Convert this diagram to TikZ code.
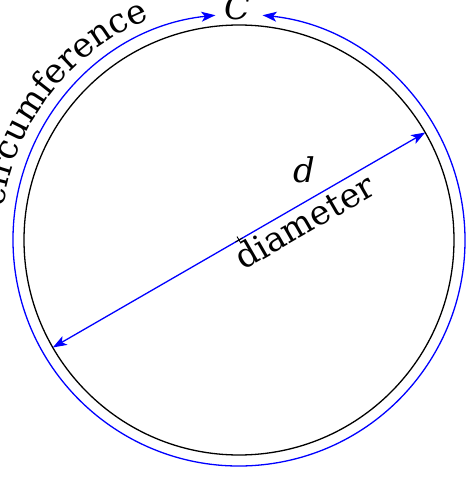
\documentclass[tikz,border=0pt]{standalone}
\usepackage{fontspec}
\setmainfont{DejaVu Serif}
\usepackage{tikz}
\usetikzlibrary{arrows.meta,decorations.text}
\definecolor{dimblue}{RGB}{0,0,255}

\tikzset{
  dimline/.style={dimblue,line width=1.3pt},
  bigtext/.style={inner sep=0pt,font=\fontsize{34}{34}\selectfont},
  tip/.tip={Stealth[length=14pt,width=10pt,inset=3.5pt]}
}

\begin{document}
\begin{tikzpicture}[x=1pt,y=1pt]
    \useasboundingbox (-239,-237) rectangle (235,240);

    % The circle
    \coordinate (o) at (0,0);
    \draw[line width=1.3pt] (o) circle (215);

    % Circumference, open at the top
    \coordinate (a1) at (96:226);
    \draw[dimline,tip-tip] (a1) arc (96:444:226);
    \node[bigtext,anchor=base] (clabel) at (-1,220) {\textit{C}};
    \path[decorate,decoration={text along path,text align=right,
        text={|\fontsize{34}{34}\selectfont|circumference}}]
        (180:238) arc (180:112:238);

    % Diameter
    \coordinate (p1) at (210:215);
    \coordinate (p2) at (30:215);
    \draw[dimline,tip-tip] (p1) -- (p2);
    \draw[line width=0.9pt,rotate=30] (-4,0) -- (4,0) (0,-4) -- (0,4);
    \node[bigtext,anchor=base] (dlabel) at (65,57) {\textit{d}};
    \node[bigtext,anchor=base west,rotate=30] (diamlabel) at (4,-31) {diameter};
\end{tikzpicture}
\end{document}
